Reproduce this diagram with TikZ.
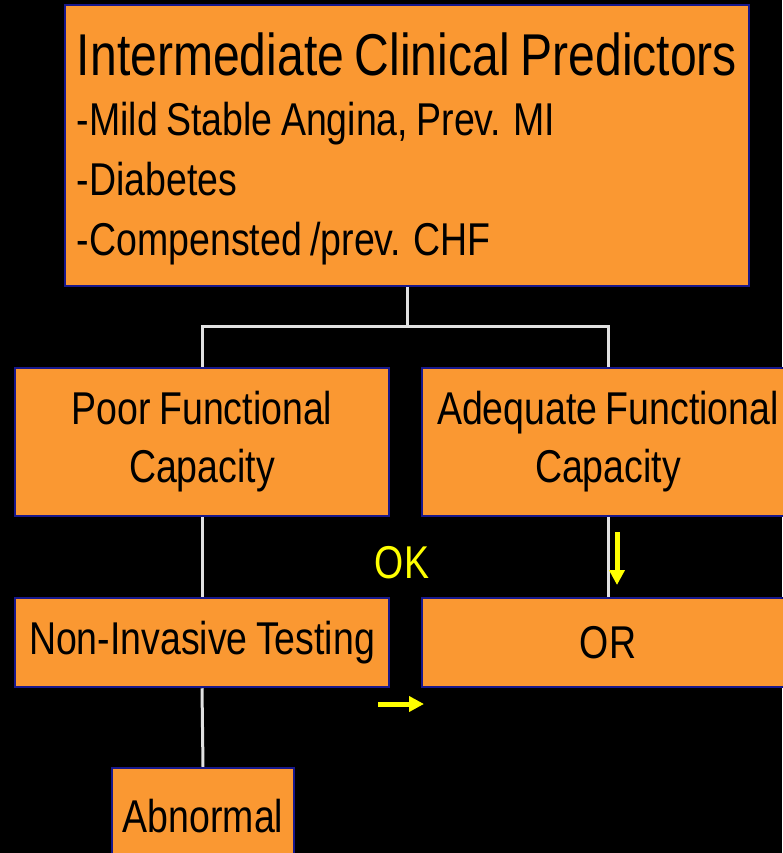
\documentclass[tikz,border=0pt]{standalone}
\usepackage{fontspec}
\setmainfont{Liberation Sans}[FakeStretch=0.815,WordSpace=0.8]
\usetikzlibrary{arrows.meta}

\definecolor{boxorange}{RGB}{250,152,50}
\definecolor{boxblue}{RGB}{24,24,140}
\definecolor{linkgray}{RGB}{225,225,225}
\definecolor{hiyellow}{RGB}{255,255,0}

\tikzset{
  box/.style={draw=boxblue, line width=2.5pt, fill=boxorange, inner sep=0pt,
    font=\fontsize{46}{58}\selectfont, align=center},
  link/.style={draw=linkgray, line width=3pt},
  hint/.style={draw=hiyellow, line width=5pt, -{Triangle[length=15pt,width=15pt]}}
}

\begin{document}
\begin{tikzpicture}[x=1pt,y=-1pt]

	%Black background, fixes the page
	\fill[black] (0,0) rectangle (782,853);
	\useasboundingbox (0,0) rectangle (782,853);

	%The boxes
	\node[box, minimum width=684pt, minimum height=281pt, align=left,
	  font=\fontsize{46}{60}\selectfont] (pred) at (407,145.5)
	  {{\fontsize{59}{66}\selectfont\rule{0pt}{50pt}Intermediate Clinical Predictors}\\
	   -Mild Stable Angina, Prev. MI\\
	   -Diabetes\\
	   -Compensted /prev. CHF};

	\node[box, minimum width=374pt, minimum height=148pt] (poor) at (202,442)
	  {Poor Functional\\Capacity};
	\node[box, minimum width=372pt, minimum height=148pt] (adeq) at (608,442)
	  {Adequate Functional\\Capacity};

	\node[box, minimum width=374pt, minimum height=89pt] (nit) at (202,642.5)
	  {Non-Invasive Testing};
	\node[box, minimum width=372pt, minimum height=89pt] (orbox) at (608,642.5)
	  {OR};

	\node[box, minimum width=182pt, minimum height=96pt] (abn) at (203,816)
	  {Abnormal};

	%Connectors
	\draw[link] (pred.south) -- ++(0,39) coordinate (split);
	\draw[link] (poor.north) |- (split) -| (adeq.north);
	\draw[link] (poor.south) -- (nit.north);
	\draw[link] (adeq.south) -- (orbox.north);
	\draw[link] (nit.south) -- (abn.north);

	%Yellow hints
	\node[text=hiyellow, font=\fontsize{46}{50}\selectfont] (ok) at (402,563) {OK};
	\coordinate (downA) at (617,532);
	\coordinate (downB) at (617,585);
	\draw[hint] (downA) -- (downB);
	\coordinate (rightA) at (378,704);
	\coordinate (rightB) at (424,704);
	\draw[hint] (rightA) -- (rightB);

\end{tikzpicture}
\end{document}
